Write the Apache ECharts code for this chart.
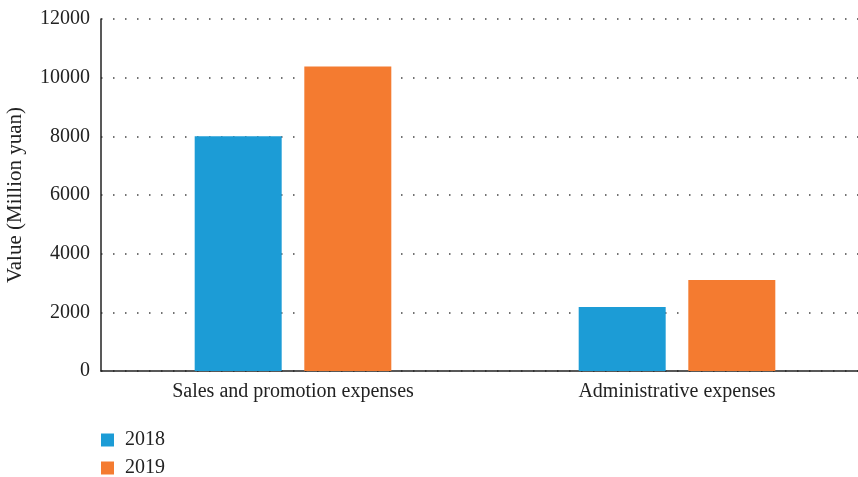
<!DOCTYPE html>
<html>
<head>
<meta charset="utf-8">
<script src="https://cdn.jsdelivr.net/npm/echarts@6/dist/echarts.min.js"></script>
<style>html,body{margin:0;padding:0;background:#fff;}#c{width:858px;height:477px;}</style>
</head>
<body>
<div id="c"></div>
<script>
const categories = ['Sales and promotion expenses', 'Administrative expenses'];
const series2018 = [8000, 2180];
const series2019 = [10380, 3100];
const seriesNames = ['2018', '2019'];
const yTicks = [0, 2000, 4000, 6000, 8000, 10000, 12000];

const font = 'Liberation Serif';
const chart = echarts.init(document.getElementById('c'));
chart.setOption({
  animation: false,
  textStyle: { fontFamily: font },
  grid: { left: 101, top: 19, width: 768, height: 352, containLabel: false, outerBoundsMode: 'none' },
  legend: {
    orient: 'vertical', left: 96, top: 425, height: 52, itemWidth: 13, itemHeight: 13, itemGap: 8,
    icon: 'rect', textStyle: { fontFamily: font, fontSize: 20, color: '#222', padding: [0, 0, 0, 6] },
    data: seriesNames
  },
  xAxis: {
    type: 'category', data: categories,
    axisLine: { lineStyle: { color: '#222', width: 1.5 } },
    axisTick: { show: false },
    axisLabel: { fontFamily: font, fontSize: 20, color: '#222', margin: 11 }
  },
  yAxis: {
    type: 'value', min: 0, max: 12000, interval: 2000,
    name: 'Value (Million yuan)', nameLocation: 'middle', nameGap: 75, nameRotate: 90,
    nameTextStyle: { fontFamily: font, fontSize: 21, color: '#222' },
    axisLine: { show: true, lineStyle: { color: '#222', width: 1.5 } },
    axisTick: { show: false },
    axisLabel: { fontFamily: font, fontSize: 20, color: '#222', margin: 11,
      formatter: v => yTicks.includes(v) ? String(v) : '' },
    splitLine: { lineStyle: { color: '#444', width: 1.5, type: [1.5, 10.5] } }
  },
  series: [
    { name: seriesNames[0], type: 'bar', data: series2018, barWidth: 87, barGap: '26%',
      itemStyle: { color: '#1c9cd6' } },
    { name: seriesNames[1], type: 'bar', data: series2019, barWidth: 87,
      itemStyle: { color: '#f47b30' } }
  ]
});
</script>
</body>
</html>
